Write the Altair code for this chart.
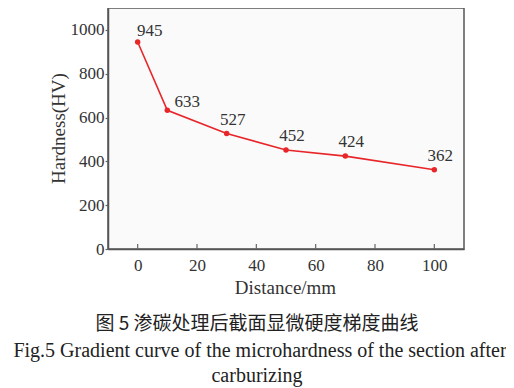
import altair as alt
import pandas as pd

distance = [0, 10, 30, 50, 70, 100]
hardness = [945, 633, 527, 452, 424, 362]
x_ticks = [0, 20, 40, 60, 80, 100]
y_ticks = [0, 200, 400, 600, 800, 1000]
caption_cn = "图 5  渗碳处理后截面显微硬度梯度曲线"
caption_en1 = "Fig.5  Gradient curve of the microhardness of the section after"
caption_en2 = "carburizing"

df = pd.DataFrame({"d": distance, "h": hardness})
ticks_df = pd.DataFrame({"t": x_ticks})

RED = "#e8262a"
SERIF = "Liberation Serif"
NUMFONT = "Times New Roman"

xs = alt.Scale(domain=[-10, 110], nice=False, zero=False)
ys = alt.Scale(domain=[0, 1100], nice=False)

base = alt.Chart(df)

line = base.mark_line(color=RED, strokeWidth=1.6).encode(
    x=alt.X("d:Q", scale=xs, axis=alt.Axis(
        values=x_ticks, title="Distance/mm", ticks=False, tickSize=0,
        labelPadding=8, grid=False, titleX=177, titleY=38, format="d",
        titleBaseline="middle", titleAlign="center")),
    y=alt.Y("h:Q", scale=ys, axis=alt.Axis(
        values=y_ticks, title="Hardness(HV)", tickSize=3, labelPadding=1,
        grid=False, titleAngle=-90, titleX=-50, titleY=120, format="d",
        titleBaseline="middle", titleAlign="center")),
)
pts = base.mark_circle(color=RED, size=30, opacity=1).encode(x="d:Q", y="h:Q")

def lab(cond, dx, dy):
    return base.transform_filter(cond).mark_text(
        font=NUMFONT, fontSize=17, color="#333", dx=dx, dy=dy, baseline="middle"
    ).encode(x="d:Q", y="h:Q", text=alt.Text("h:N"))

labels = (lab("datum.d == 0", 12, -11) + lab("datum.d == 10", 20, -8)
          + lab("datum.d > 10", 6, -14))

xt = alt.Chart(ticks_df).mark_rule(color="#666", strokeWidth=1.2).encode(
    x=alt.X("t:Q", scale=xs), y=alt.value(241), y2=alt.value(236))

def cap(txt, x, y, font, size):
    return alt.Chart(pd.DataFrame({"c": [txt]})).mark_text(
        font=font, fontSize=size, color="#222", align="center", baseline="alphabetic"
    ).encode(text="c:N", x=alt.value(x), y=alt.value(y))

caps = (cap(caption_cn, 149, 322, "Noto Sans CJK SC", 19)
        + cap(caption_en1, 152, 349, SERIF, 20)
        + cap(caption_en2, 149, 374, SERIF, 20))

chart = alt.layer(xt, line, pts, labels, caps).properties(
    width=356, height=241,
    autosize=alt.AutoSizeParams(type="none"),
    padding={"left": 100, "top": 0, "right": 42, "bottom": 140},
    background="white",
).configure_view(
    stroke="#555", strokeWidth=1.5, fill="#fafafa"
).configure_axis(
    labelFont=NUMFONT, titleFont=SERIF, labelFontSize=17, titleFontSize=19,
    titleFontWeight="normal", labelColor="#333", titleColor="#333",
    domainColor="#555", domainWidth=1.5, tickColor="#666", tickWidth=1.2,
)

chart.save("out.html", embed_options={"renderer": "svg", "actions": False})
